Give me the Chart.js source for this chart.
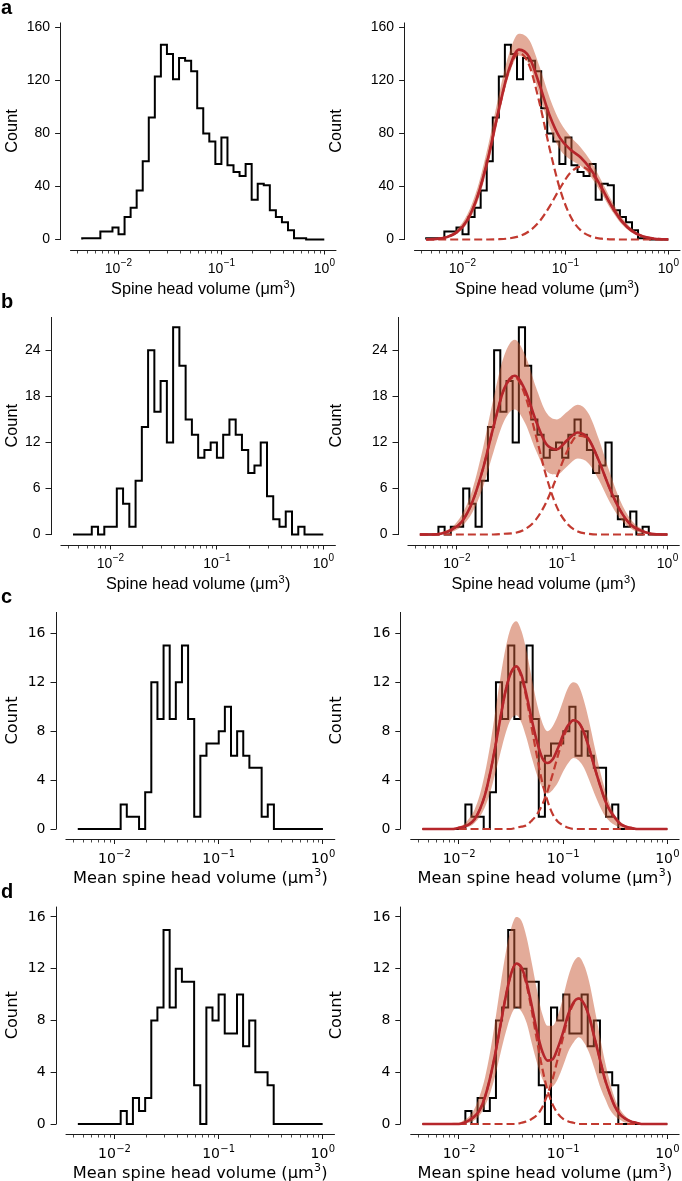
<!DOCTYPE html>
<html><head><meta charset="utf-8">
<script src="https://cdn.jsdelivr.net/npm/chart.js@4.4.1/dist/chart.umd.min.js"></script>
<style>
html,body{margin:0;padding:0;background:#fff;}
#fig{position:relative;width:682px;height:1181px;overflow:hidden;background:#fff;}
#fig canvas{position:absolute;}
</style></head><body><div id="fig"></div>
<script>
// ---------------- DATA ----------------
// histogram bins: 40 log-spaced bins between 10^-2.35 and 10^0 (µm^3)
const BIN_LOG_MIN = -2.35, BIN_LOG_MAX = 0, N_BINS = 40;
const countsA = [1,1,1,6,6,9,4,17,24,37,59,92,123,147,140,121,137,135,127,99,80,74,57,77,56,51,48,57,30,42,41,22,17,13,7,1,1,0,0,0];
const countsB = [0,0,0,1,0,1,1,6,4,1,7,14,24,16,20,12,27,22,15,13,10,11,12,10,13,15,13,11,8,9,12,5,2,1,3,0,1,0,0,0];
const countsC = [0,0,0,0,0,0,0,2,1,1,0,3,12,9,15,9,12,15,9,1,6,7,7,8,10,6,8,6,5,5,1,2,0,0,0,0,0,0,0,0];
const countsD = [0,0,0,0,0,0,0,1,0,2,1,2,8,9,15,9,12,11,11,3,0,9,8,10,7,7,10,6,8,4,4,3,0,0,0,0,0,0,0,0];

// fit curves, sampled at log10(volume)
const curveLogAB = [-2.35,-2.25,-2.15,-2.05,-1.95,-1.85,-1.75,-1.65,-1.55,-1.45,-1.35,-1.25,-1.15,-1.05,-0.95,-0.85,-0.75,-0.65,-0.55,-0.45,-0.35,-0.25,-0.15,-0.05,0];
const curveLogCD = [-2.35,-2.25,-2.15,-2.05,-2.0,-1.95,-1.9,-1.85,-1.8,-1.75,-1.7,-1.65,-1.6,-1.55,-1.5,-1.45,-1.4,-1.35,-1.3,-1.25,-1.2,-1.15,-1.1,-1.05,-1.0,-0.95,-0.9,-0.85,-0.8,-0.75,-0.7,-0.65,-0.6,-0.55,-0.5,-0.45,-0.4,-0.35,-0.3,-0.25,-0.15,-0.05,0];

const fitA   = [0.1,0.5,1.8,5.6,14.8,32.9,61.2,96.4,127.7,143.3,137.7,116.8,93.2,76.5,67.9,61.9,52.7,39.5,25.3,13.7,6.3,2.4,0.8,0.2,0.1];
const comp1A = [0.1,0.5,1.8,5.6,14.8,32.9,61.2,96.2,126.9,140.9,131.4,103.1,68.0,37.6,17.5,6.9,2.3,0.6,0.1,0,0,0,0,0,0];
const comp2A = [0,0,0,0,0,0,0,0.2,0.8,2.4,6.3,13.7,25.2,38.9,50.4,55,50.4,38.9,25.2,13.7,6.3,2.4,0.8,0.2,0.1];
const upperA = [0.2,0.8,2.7,7.8,19.0,39.6,70.6,107.2,139.2,155.3,150.5,130.5,106.7,88.6,77.7,69.4,58.8,44.6,29.5,16.7,8.1,3.4,1.2,0.4,0.2];
const lowerA = [0.1,0.3,1.3,4.3,12.2,28.7,56.1,91.0,123.0,138.7,132.0,109.3,84.4,67.8,60.3,55.4,47.2,34.9,21.8,11.3,4.9,1.8,0.5,0.1,0];

const fitB   = [0,0,0.1,0.6,1.7,4.3,8.6,14.1,19.0,20.7,18.8,14.9,11.8,11.1,12.3,13.3,12.5,9.6,6.1,3.2,1.3,0.5,0.1,0,0];
const comp1B = [0,0,0.1,0.6,1.7,4.3,8.6,14.1,18.9,20.5,18.1,13.0,7.6,3.6,1.4,0.4,0.1,0,0,0,0,0,0,0,0];
const comp2B = [0,0,0,0,0,0,0,0,0.1,0.2,0.7,1.9,4.2,7.5,10.9,12.9,12.4,9.6,6.1,3.2,1.3,0.5,0.1,0,0];
const upperB = [0,0.1,0.3,0.9,2.6,5.9,11.3,17.8,23.3,25.4,23.4,19.3,15.9,15.0,16.0,16.9,15.8,12.4,8.2,4.5,2.0,0.8,0.2,0.1,0];
const lowerB = [0,0,0.1,0.3,1.1,2.9,6.2,10.8,14.8,16.3,14.5,11.0,8.3,7.8,8.9,9.9,9.3,7.1,4.3,2.1,0.8,0.2,0.1,0,0];

const fitC   = [0,0,0,0,0.1,0.2,0.4,0.8,1.6,2.8,4.6,6.8,9.2,11.4,12.8,13.3,12.6,10.9,8.9,7.1,5.8,5.4,5.7,6.6,7.7,8.5,8.9,8.7,7.9,6.6,5.1,3.7,2.4,1.5,0.9,0.4,0.2,0.1,0,0,0,0,0];
const comp1C = [0,0,0,0,0.1,0.2,0.4,0.8,1.6,2.8,4.6,6.8,9.2,11.4,12.8,13.2,12.4,10.6,8.2,5.9,3.8,2.3,1.2,0.6,0.3,0.1,0,0,0,0,0,0,0,0,0,0,0,0,0,0,0,0,0];
const comp2C = [0,0,0,0,0,0,0,0,0,0,0,0,0,0,0,0.1,0.2,0.3,0.7,1.2,2.0,3.1,4.5,6.0,7.4,8.4,8.9,8.7,7.9,6.6,5.1,3.7,2.4,1.5,0.9,0.4,0.2,0.1,0,0,0,0,0];
const upperC = [0,0,0,0.1,0.2,0.4,0.9,1.6,2.8,4.6,6.9,9.7,12.5,14.9,16.5,17.0,16.2,14.5,12.3,10.2,8.7,8.0,8.4,9.3,10.5,11.6,12.0,11.7,10.5,8.8,6.8,4.9,3.3,2.0,1.1,0.6,0.3,0.1,0.1,0,0,0,0];
const lowerC = [0,0,0,0,0,0.1,0.2,0.5,1.0,1.8,3.0,4.6,6.3,7.9,9.0,9.3,8.7,7.4,5.8,4.4,3.4,2.9,3.2,3.8,4.7,5.4,5.8,5.6,5.0,4.0,2.9,1.9,1.1,0.6,0.3,0.1,0.1,0,0,0,0,0,0];

const fitD   = [0,0,0,0,0,0.1,0.3,0.6,1.1,2.1,3.6,5.5,7.7,9.9,11.6,12.4,12.1,10.9,9.1,7.1,5.6,4.9,5.0,5.9,7.1,8.5,9.4,9.7,9.3,8.3,6.7,5.1,3.5,2.3,1.3,0.7,0.4,0.2,0.1,0,0,0,0];
const comp1D = [0,0,0,0,0,0.1,0.3,0.6,1.1,2.1,3.6,5.5,7.7,9.9,11.6,12.4,12.0,10.7,8.7,6.4,4.3,2.6,1.5,0.8,0.4,0.2,0.1,0,0,0,0,0,0,0,0,0,0,0,0,0,0,0,0];
const comp2D = [0,0,0,0,0,0,0,0,0,0,0,0,0,0,0,0,0.1,0.2,0.4,0.7,1.3,2.3,3.5,5.1,6.7,8.3,9.3,9.7,9.3,8.3,6.7,5.1,3.5,2.3,1.3,0.7,0.4,0.2,0.1,0,0,0,0];
const upperD = [0,0,0,0.1,0.1,0.3,0.6,1.2,2.2,3.6,5.6,8.1,10.8,13.3,15.1,16.0,15.7,14.4,12.4,10.3,8.5,7.6,7.6,8.4,9.8,11.4,12.5,12.9,12.3,11.0,9.0,6.9,4.9,3.2,1.9,1.1,0.6,0.3,0.1,0,0,0,0];
const lowerD = [0,0,0,0,0,0.1,0.1,0.3,0.7,1.4,2.4,3.8,5.5,7.1,8.4,9.0,8.7,7.8,6.2,4.7,3.5,2.8,2.9,3.5,4.5,5.6,6.3,6.7,6.3,5.5,4.3,3.0,2.0,1.1,0.6,0.3,0.1,0.1,0,0,0,0,0];

// tick labels and titles
const xMajorExp = [-2,-1,0];
const yTicksA = [0,40,80,120,160];
const yTicksB = [0,6,12,18,24];
const yTicksC = [0,4,8,12,16];
const yTicksD = [0,4,8,12,16];
const xTitleAB = ['Spine head volume (\u03bcm', '3', ')'];
const xTitleCD = ['Mean spine head volume (\u03bcm', '3', ')'];
const yTitle = 'Count';

// ---------------- LAYOUT / STYLE ----------------
const X_LO = -2.4675, X_HI = 0.1175;
const FONT_AB = '"Liberation Sans", Arial, Helvetica, sans-serif';
const FONT_CD = '"DejaVu Sans", "Liberation Sans", sans-serif';
const AXIS = '#1c1c1c';
const RED = '#b6262b', RED_DASH = '#c23a30', BAND = 'rgba(200,88,52,0.5)';

const ROWS = [
  {key:'a', counts:countsA, logx:curveLogAB, fit:fitA, c1:comp1A, c2:comp2A, up:upperA, lo:lowerA, yTicks:yTicksA, yMax:163.8,
   T:22.5, B:239.5, cy:0, ch:300, Lrect:{L:70.1,R:336.4}, Rrect:{L:414.1,R:680.4}, font:FONT_AB, titleSize:16.3, title:xTitleAB, tickBase:22.3, titleBase:43.8},
  {key:'b', counts:countsB, logx:curveLogAB, fit:fitB, c1:comp1B, c2:comp2B, up:upperB, lo:lowerB, yTicks:yTicksB, yMax:28.35,
   T:317, B:534.5, cy:290, ch:305, Lrect:{L:60.5,R:335.8}, Rrect:{L:407.5,R:679.7}, font:FONT_AB, titleSize:16.3, title:xTitleAB, tickBase:22.3, titleBase:43.8},
  {key:'c', counts:countsC, logx:curveLogCD, fit:fitC, c1:comp1C, c2:comp2C, up:upperC, lo:lowerC, yTicks:yTicksC, yMax:17.75,
   T:612, B:829, cy:588, ch:302, Lrect:{L:65.5,R:335.2}, Rrect:{L:410.3,R:679.5}, font:FONT_CD, titleSize:16.2, title:xTitleCD, tickBase:23.5, titleBase:43.3},
  {key:'d', counts:countsD, logx:curveLogCD, fit:fitD, c1:comp1D, c2:comp2D, up:upperD, lo:lowerD, yTicks:yTicksD, yMax:16.8,
   T:906.6, B:1124, cy:880, ch:301, Lrect:{L:65.6,R:334.9}, Rrect:{L:410.3,R:679.5}, font:FONT_CD, titleSize:16.2, title:xTitleCD, tickBase:23.5, titleBase:43.3},
];
const COLS = {L:{cx:0, cw:345, countX:13}, R:{cx:325, cw:357, countX:337}};

function histPoints(counts){
  const w = (BIN_LOG_MAX - BIN_LOG_MIN) / N_BINS;
  const e = i => Math.pow(10, BIN_LOG_MIN + i * w);
  const pts = [{x:e(0), y:0}];
  counts.forEach((c,i) => pts.push({x:e(i), y:c}));
  pts.push({x:e(N_BINS), y:counts[N_BINS-1]});
  pts.push({x:e(N_BINS), y:0});
  return pts;
}
function curvePoints(logx, ys){ return logx.map((lx,i) => ({x:Math.pow(10,lx), y:ys[i]})); }

function decorPlugin(row, side, col){
  return {
    id:'decor_'+row.key+side,
    afterDraw(chart){
      const ctx = chart.ctx, xs = chart.scales.x, ys = chart.scales.y, ca = chart.chartArea;
      ctx.save();
      ctx.strokeStyle = AXIS; ctx.lineWidth = 1;
      const sx = Math.round(ca.left) + 0.5;
      const y0 = ys.getPixelForValue(0);
      ctx.beginPath(); ctx.moveTo(sx, y0 + 0.5); ctx.lineTo(sx, ca.top); ctx.stroke();
      const sy = Math.round(ca.bottom) + 0.5;
      const xl = xs.getPixelForValue(Math.pow(10, X_LO));
      ctx.beginPath(); ctx.moveTo(xl, sy); ctx.lineTo(ca.right, sy); ctx.stroke();
      // minor ticks
      ctx.lineWidth = 0.8;
      for (let n = -3; n <= 0; n++) for (let k = 2; k <= 9; k++) {
        const v = k * Math.pow(10, n), lv = Math.log10(v);
        if (lv < X_LO || lv > X_HI) continue;
        const px = Math.round(xs.getPixelForValue(v)) + 0.5;
        ctx.beginPath(); ctx.moveTo(px, sy); ctx.lineTo(px, sy + 3); ctx.stroke();
      }
      // x tick labels 10^n
      ctx.fillStyle = '#000'; ctx.textBaseline = 'alphabetic'; ctx.textAlign = 'left';
      xMajorExp.forEach(ex => {
        const px = xs.getPixelForValue(Math.pow(10, ex));
        const es = ex < 0 ? '\u2212' + (-ex) : String(ex);
        ctx.font = '14px ' + row.font; const wb = ctx.measureText('10').width;
        ctx.font = '10px ' + row.font; const we = ctx.measureText(es).width;
        const x0 = px - (wb + we) / 2;
        ctx.font = '14px ' + row.font; ctx.fillText('10', x0, sy + row.tickBase);
        ctx.font = '10px ' + row.font; ctx.fillText(es, x0 + wb + 0.3, sy + row.tickBase - 6.5);
      });
      // x title with superscript 3
      const fMain = row.titleSize + 'px ' + row.font;
      const fSup = Math.round(row.titleSize * 0.7) + 'px ' + row.font;
      ctx.font = fMain; const w1 = ctx.measureText(row.title[0]).width; const w3 = ctx.measureText(row.title[2]).width;
      ctx.font = fSup; const w2 = ctx.measureText(row.title[1]).width;
      const tx0 = (xl + ca.right) / 2 - (w1 + w2 + w3 + 0.6) / 2;
      const tb = sy + row.titleBase;
      ctx.font = fMain; ctx.fillText(row.title[0], tx0, tb);
      ctx.font = fSup; ctx.fillText(row.title[1], tx0 + w1 + 0.3, tb - 6.5);
      ctx.font = fMain; ctx.fillText(row.title[2], tx0 + w1 + w2 + 0.6, tb);
      // y title
      ctx.save();
      ctx.font = fMain; ctx.textAlign = 'center';
      ctx.translate(col.countX - col.cx, (y0 + ys.getPixelForValue(row.yMax)) / 2);
      ctx.rotate(-Math.PI / 2);
      ctx.textBaseline = 'middle';
      ctx.fillText(yTitle, 0, 0);
      ctx.restore();
      // panel letter
      if (side === 'L') {
        ctx.font = 'bold 20px "Liberation Sans", Arial, sans-serif'; ctx.textAlign = 'left';
        ctx.fillText(row.key, 1 - col.cx, ca.top - 9);
      }
      ctx.restore();
    }
  };
}

const fig = document.getElementById('fig');
ROWS.forEach(row => {
  ['L','R'].forEach(side => {
    const col = COLS[side];
    const rect = side === 'L' ? row.Lrect : row.Rrect;
    const cv = document.createElement('canvas');
    cv.width = col.cw; cv.height = row.ch;
    cv.style.left = col.cx + 'px'; cv.style.top = row.cy + 'px';
    cv.style.width = col.cw + 'px'; cv.style.height = row.ch + 'px';
    fig.appendChild(cv);

    const pxPerDec = (rect.R - rect.L) / (X_HI - X_LO);
    const xMin = Math.pow(10, X_LO - 10 / pxPerDec);
    const xMax = Math.pow(10, X_HI);
    const yMin = -10 * row.yMax / (row.B - row.T);
    const yAxisW = (rect.L - 10) - col.cx;
    const xAxisH = (row.cy + row.ch) - (row.B + 10);

    const datasets = [{
      label:'hist', data:histPoints(row.counts), stepped:'before', borderColor:'#000', borderWidth:2,
      pointRadius:0, fill:false, tension:0, order:5, borderJoinStyle:'miter'
    }];
    if (side === 'R') {
      datasets.push(
        {label:'band upper', data:curvePoints(row.logx, row.up), borderColor:'rgba(0,0,0,0)', borderWidth:0,
         backgroundColor:BAND, fill:'+1', pointRadius:0, cubicInterpolationMode:'monotone', order:4},
        {label:'band lower', data:curvePoints(row.logx, row.lo), borderColor:'rgba(0,0,0,0)', borderWidth:0,
         fill:false, pointRadius:0, cubicInterpolationMode:'monotone', order:4},
        {label:'component 1', data:curvePoints(row.logx, row.c1), borderColor:RED_DASH, borderWidth:2.2,
         borderDash:[8,4], fill:false, pointRadius:0, cubicInterpolationMode:'monotone', order:2},
        {label:'component 2', data:curvePoints(row.logx, row.c2), borderColor:RED_DASH, borderWidth:2.2,
         borderDash:[8,4], fill:false, pointRadius:0, cubicInterpolationMode:'monotone', order:2},
        {label:'fit', data:curvePoints(row.logx, row.fit), borderColor:RED, borderWidth:2.6,
         fill:false, pointRadius:0, cubicInterpolationMode:'monotone', order:0}
      );
    }

    new Chart(cv, {
      type:'line',
      data:{datasets},
      options:{
        responsive:false, animation:false, devicePixelRatio:1,
        layout:{padding:{left:0, bottom:0, top:row.T - row.cy, right:(col.cx + col.cw) - rect.R}},
        plugins:{legend:{display:false}, tooltip:{enabled:false}},
        elements:{point:{radius:0}},
        scales:{
          x:{type:'logarithmic', position:'bottom', min:xMin, max:xMax,
             afterBuildTicks:s => { s.ticks = xMajorExp.map(e => ({value:Math.pow(10,e)})); },
             afterFit:s => { s.height = xAxisH; },
             grid:{drawOnChartArea:false, drawTicks:true, tickLength:5, tickWidth:1, tickColor:AXIS},
             border:{display:false},
             ticks:{display:false}},
          y:{type:'linear', position:'left', min:yMin, max:row.yMax,
             afterBuildTicks:s => { s.ticks = row.yTicks.map(v => ({value:v})); },
             afterFit:s => { s.width = yAxisW; },
             grid:{drawOnChartArea:false, drawTicks:true, tickLength:5, tickWidth:1, tickColor:AXIS},
             border:{display:false},
             ticks:{color:'#000', padding:5, font:{family:row.font, size:14}, callback:v => String(v)}}
        }
      },
      plugins:[decorPlugin(row, side, col)]
    });
  });
});
</script>
</body></html>
